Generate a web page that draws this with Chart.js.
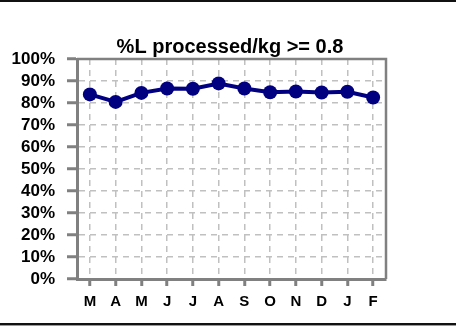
<!DOCTYPE html>
<html>
<head>
<meta charset="utf-8">
<script src="https://cdn.jsdelivr.net/npm/chart.js@4"></script>
<style>
  html, body { margin: 0; padding: 0; background: #fff; }
  #wrap { position: relative; width: 456px; height: 328px; overflow: hidden; }
  .rule { position: absolute; left: 0; width: 456px; }
</style>
</head>
<body>
<div id="wrap">
  <canvas id="chart" width="456" height="328"></canvas>
  <div class="rule" style="top:0;height:2px;background:#111"></div>
  <div class="rule" style="top:323px;height:2px;background:#111"></div>
  <div class="rule" style="top:325px;height:1px;background:#999"></div>
</div>
<script>
/* %L processed/kg >= 0.8 : monthly line, Mar..Feb */

const MONTHS = ['M', 'A', 'M', 'J', 'J', 'A', 'S', 'O', 'N', 'D', 'J', 'F'];
const PCT = [83.9, 80.5, 84.6, 86.6, 86.5, 88.9, 86.6, 84.9, 85.2, 84.8, 85.1, 82.5];
const Y_MIN = 0;
const Y_MAX = 100;
const Y_STEP = 10;

const NAVY = '#000080';
const AXIS = '#808080';
const GRID = '#c0c0c0';
const FONT = "'Liberation Sans', Arial, sans-serif";

// gray frame on top + right of the plot, like the axis lines
const frame = {
  id: 'frame',
  beforeDatasetsDraw(chart) {
    const { ctx, chartArea: a } = chart;
    ctx.save();
    ctx.strokeStyle = AXIS;
    ctx.lineWidth = 2.5;
    ctx.beginPath();
    ctx.moveTo(a.left, a.top);
    ctx.lineTo(a.right, a.top);
    ctx.lineTo(a.right, a.bottom);
    ctx.stroke();
    ctx.restore();
  },
};

new Chart(document.getElementById('chart'), {
  type: 'line',
  data: {
    labels: MONTHS,
    datasets: [{
      data: PCT,
      borderColor: NAVY, backgroundColor: NAVY,
      borderWidth: 4, tension: 0,
      pointRadius: 7, pointBackgroundColor: NAVY, pointBorderWidth: 0,
    }],
  },
  options: {
    responsive: false, animation: false, devicePixelRatio: 1,
    layout: { padding: { left: 4, right: 0, top: 31, bottom: 9 } },
    plugins: {
      legend: { display: false },
      tooltip: { enabled: false },
      title: {
        display: true, text: '%L processed/kg >= 0.8', color: '#000',
        font: { family: FONT, size: 20, weight: 'bold', lineHeight: 1.2 },
        padding: { top: 4, bottom: 0 },
      },
    },
    scales: {
      x: {
        offset: true,
        grid: { offset: false, color: GRID, lineWidth: 1.5, tickColor: AXIS, tickWidth: 3, tickLength: 7, tickBorderDash: [] },
        border: { color: AXIS, width: 3, dash: [6, 5] },
        ticks: { color: '#000', padding: 7, font: { family: FONT, size: 15, weight: 'bold' } },
        afterFit(s) { s.height = 40; },
      },
      y: {
        min: Y_MIN, max: Y_MAX,
        grid: { color: GRID, lineWidth: 1.5, tickColor: AXIS, tickWidth: 3, tickLength: 10, tickBorderDash: [] },
        border: { color: AXIS, width: 3, dash: [6, 5] },
        ticks: {
          stepSize: Y_STEP, autoSkip: false, color: '#000', padding: 12,
          font: { family: FONT, size: 17, weight: 'bold' },
          callback: (v) => v + '%',
        },
        afterFit(s) { s.width = 73; },
      },
      // empty right axis: only reserves the white margin right of the plot
      yPad: {
        position: 'right', min: Y_MIN, max: Y_MAX,
        grid: { display: false }, border: { display: false }, ticks: { display: false },
        afterFit(s) { s.width = 70; },
      },
    },
  },
  plugins: [frame],
});
</script>
</body>
</html>
